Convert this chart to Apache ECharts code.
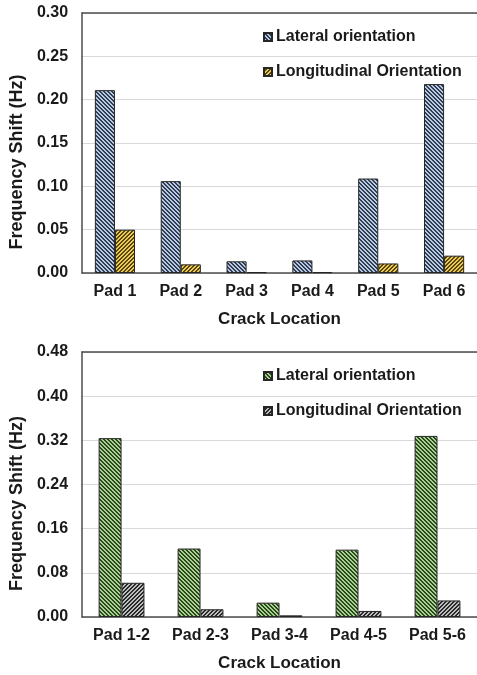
<!DOCTYPE html>
<html>
<head>
<meta charset="utf-8">
<script src="https://cdn.jsdelivr.net/npm/echarts@6/dist/echarts.min.js"></script>
<style>
  html, body { margin: 0; padding: 0; background: #fff; }
  #chart { width: 477px; height: 675px; }
</style>
</head>
<body>
<div id="chart"></div>
<script>
// Single-pad crack locations (upper panel)
const padCategories = ['Pad 1', 'Pad 2', 'Pad 3', 'Pad 4', 'Pad 5', 'Pad 6'];
const padLateral = [0.211, 0.106, 0.0135, 0.0145, 0.109, 0.218];
const padLongitudinal = [0.050, 0.010, 0.001, 0.001, 0.011, 0.020];

// Between-pad crack locations (lower panel)
const pairCategories = ['Pad 1-2', 'Pad 2-3', 'Pad 3-4', 'Pad 4-5', 'Pad 5-6'];
const pairLateral = [0.324, 0.124, 0.026, 0.122, 0.328];
const pairLongitudinal = [0.062, 0.014, 0.003, 0.011, 0.030];

const seriesNames = ['Lateral orientation', 'Longitudinal Orientation'];
const upperTicks = { min: 0, max: 0.30, interval: 0.05, digits: 2 };
const lowerTicks = { min: 0, max: 0.48, interval: 0.08, digits: 2 };

// Diagonal hatch fill built on a small repeating canvas tile
function hatch(bg, fg, backslash) {
  const n = 4;
  const c = document.createElement('canvas');
  c.width = n; c.height = n;
  const g = c.getContext('2d');
  g.fillStyle = bg; g.fillRect(0, 0, n, n);
  g.fillStyle = fg;
  for (let i = 0; i < n; i++) {
    const x = backslash ? i : n - 1 - i;
    g.fillRect(x, i, 1, 1);
    g.fillRect((x + (backslash ? 1 : n - 1)) % n, i, 1, 1);
  }
  return { image: c, repeat: 'repeat' };
}

const blueHatch = hatch('#b8c9e0', '#2f3e54', true);
const goldHatch = hatch('#eecb55', '#5a4710', false);
const greenHatch = hatch('#a9d28e', '#2b4720', true);
const grayHatch = hatch('#bdbdbd', '#2a2a2a', false);

const FONT = 'Liberation Sans, Arial, sans-serif';
const axisDark = '#4d4d4d';

function xAxes(cats, gridIndex) {
  return [
    {
      type: 'category', data: cats, gridIndex,
      axisLine: { show: true, lineStyle: { color: axisDark, width: 1.5 } },
      axisTick: { show: false },
      axisLabel: { color: '#1a1a1a', fontFamily: FONT, fontWeight: 'bold', fontSize: 16, margin: 11 },
      name: 'Crack Location', nameLocation: 'middle', nameGap: 38,
      nameTextStyle: { color: '#1a1a1a', fontFamily: FONT, fontWeight: 'bold', fontSize: 17 }
    },
    {
      type: 'category', data: cats, gridIndex, position: 'top',
      axisLine: { show: true, onZero: false, lineStyle: { color: axisDark, width: 1.5 } },
      axisTick: { show: false }, axisLabel: { show: false }
    }
  ];
}

function yAxis(t, gridIndex) {
  return {
    type: 'value', gridIndex, min: t.min, max: t.max, interval: t.interval,
    axisLine: { show: true, lineStyle: { color: axisDark, width: 1.5 } },
    axisTick: { show: false },
    splitLine: { show: true, lineStyle: { color: '#d9d9d9', width: 1 } },
    axisLabel: {
      color: '#1a1a1a', fontFamily: FONT, fontWeight: 'bold', fontSize: 16, margin: 14,
      formatter: v => v.toFixed(t.digits)
    },
    name: 'Frequency Shift (Hz)', nameLocation: 'middle', nameGap: 55,
    nameTextStyle: { color: '#1a1a1a', fontFamily: FONT, fontWeight: 'bold', fontSize: 18, padding: [0, 38, 0, 0] }
  };
}

function bars(name, data, fill, xi, yi, gap) {
  return {
    type: 'bar', name, data, xAxisIndex: xi, yAxisIndex: yi,
    barGap: '0%', barCategoryGap: gap,
    itemStyle: { color: fill, borderColor: '#262626', borderWidth: 1 },
    silent: true, animation: false
  };
}

function legend(top, items) {
  return {
    orient: 'vertical', left: 258, top, itemWidth: 8, itemHeight: 8, itemGap: 19,
    icon: 'rect', data: items, selectedMode: false,
    textStyle: { color: '#1a1a1a', fontFamily: FONT, fontWeight: 'bold', fontSize: 16, padding: [0, 0, 0, -1] }
  };
}

const chart = echarts.init(document.getElementById('chart'), null, { renderer: 'canvas' });
chart.setOption({
  backgroundColor: '#fff',
  animation: false,
  grid: [
    { left: 82, top: 13, width: 395, height: 260 },
    { left: 82, top: 352, width: 395, height: 265 }
  ],
  xAxis: [...xAxes(padCategories, 0), ...xAxes(pairCategories, 1)],
  yAxis: [yAxis(upperTicks, 0), yAxis(lowerTicks, 1)],
  legend: [
    legend(24, [
      { name: seriesNames[0] + ' ', itemStyle: { color: blueHatch } },
      { name: seriesNames[1] + ' ', itemStyle: { color: goldHatch } }
    ]),
    legend(363, [
      { name: seriesNames[0] + '  ', itemStyle: { color: greenHatch } },
      { name: seriesNames[1] + '  ', itemStyle: { color: grayHatch } }
    ])
  ],
  series: [
    bars(seriesNames[0] + ' ', padLateral, blueHatch, 0, 0, '39%'),
    bars(seriesNames[1] + ' ', padLongitudinal, goldHatch, 0, 0, '39%'),
    bars(seriesNames[0] + '  ', pairLateral, greenHatch, 2, 1, '42%'),
    bars(seriesNames[1] + '  ', pairLongitudinal, grayHatch, 2, 1, '42%')
  ]
});
</script>
</body>
</html>
